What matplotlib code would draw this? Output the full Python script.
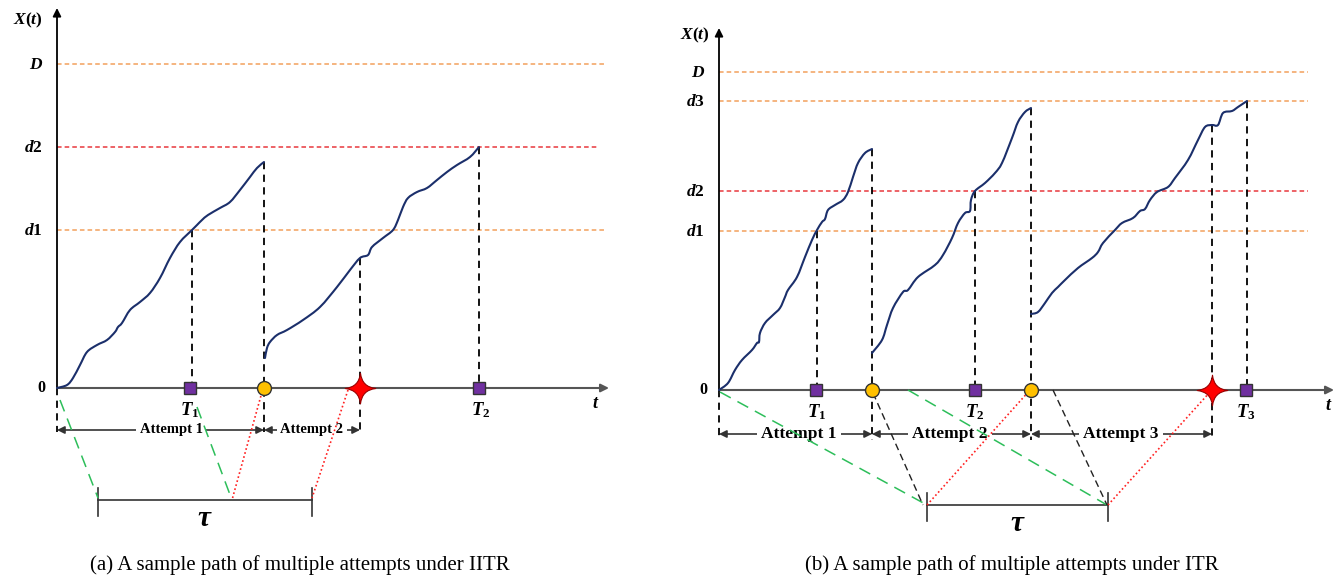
import matplotlib
matplotlib.use("Agg")
import matplotlib.pyplot as plt
from matplotlib.path import Path
from matplotlib.patches import PathPatch
import numpy as np

plt.rcParams['mathtext.fontset'] = 'custom'
plt.rcParams['mathtext.rm'] = 'Liberation Serif:bold'
plt.rcParams['mathtext.it'] = 'Liberation Serif:bold:italic'
plt.rcParams['mathtext.bf'] = 'Liberation Serif:bold'

# ---------------- data (diagram coordinates) ----------------
# Panel (a)
a_axis_x = 57
a_zero_y = 388
a_levels_y = [64, 147, 230]
a_level_labels = ['$D$', '$d2$', '$d1$']
a_level_kinds = ['orange', 'red', 'orange']
a_level_end = [607, 598, 605]

a_path1_x = [57, 67, 73, 80, 87, 97, 107, 115, 118, 122, 130, 140, 150, 160, 170, 180, 192, 197, 202, 208, 220, 230, 240, 250, 257, 264]
a_path1_y = [388, 385, 378, 365, 352, 345, 340, 332, 327, 323, 310, 302, 293, 278, 258, 242, 230, 225, 220, 215, 208, 202, 190, 177, 168, 162]
a_path2_x = [265, 267, 270, 277, 287, 303, 320, 337, 350, 360, 368, 372, 383, 393, 398, 403, 408, 417, 427, 437, 447, 457, 470, 479]
a_path2_y = [358, 348, 342, 335, 330, 320, 307, 287, 270, 258, 255, 247, 238, 230, 220, 207, 198, 192, 188, 180, 172, 165, 157, 147]

a_vlines = [(192, 230, 388), (264, 162, 432), (360, 258, 432), (479, 147, 388), (57, 388, 432)]
a_markers = [('square', 190), ('circle', 264), ('star', 360), ('square', 479)]
a_T_labels = [('$T_1$', 190), ('$T_2$', 481)]
a_attempts = [(57, 264, 'Attempt 1', 171), (264, 360, 'Attempt 2', 312)]
a_attempt_y = 430
a_green = [((60, 400), (98, 498)), ((197, 407), (232, 500))]
a_red = [((262, 392), (232, 500)), ((348, 390), (312, 498))]
a_black = []
a_tau = (98, 312, 500)

# Panel (b)
b_axis_x = 719
b_zero_y = 390
b_levels_y = [72, 101, 191, 231]
b_level_labels = ['$D$', '$d3$', '$d2$', '$d1$']
b_level_kinds = ['orange', 'orange', 'red', 'orange']
b_level_end = [1308, 1308, 1308, 1308]

b_path1_x = [719, 728, 735, 742, 752, 757, 759, 760, 765, 773, 780, 785, 788, 797, 805, 812, 817, 822, 825, 828, 835, 843, 848, 853, 858, 865, 872]
b_path1_y = [390, 383, 370, 360, 350, 343, 342, 333, 323, 315, 308, 297, 290, 277, 257, 240, 230, 222, 219, 210, 205, 200, 192, 177, 163, 153, 149]
b_path2_x = [872, 882, 887, 893, 903, 908, 918, 935, 943, 952, 958, 965, 970, 971, 975, 985, 995, 1002, 1012, 1018, 1025, 1031]
b_path2_y = [353, 340, 325, 308, 292, 290, 277, 265, 255, 238, 223, 213, 211, 200, 191, 183, 173, 163, 138, 122, 112, 108]
b_path3_x = [1031, 1038, 1045, 1052, 1058, 1065, 1078, 1092, 1098, 1103, 1115, 1122, 1133, 1140, 1145, 1150, 1157, 1168, 1175, 1188, 1198, 1205, 1212, 1218, 1223, 1232, 1238, 1247]
b_path3_y = [314, 312, 303, 293, 287, 280, 268, 258, 252, 243, 230, 223, 218, 211, 209, 200, 192, 187, 178, 160, 140, 127, 125, 125, 113, 111, 107, 101]

b_vlines = [(817, 231, 390), (872, 149, 440), (975, 191, 390), (1031, 108, 440), (1212, 125, 440), (1247, 101, 390), (719, 390, 440)]
b_markers = [('square', 816), ('circle', 872), ('square', 975), ('circle', 1031), ('star', 1212), ('square', 1246)]
b_T_labels = [('$T_1$', 817), ('$T_2$', 975), ('$T_3$', 1246)]
b_attempts = [(719, 872, 'Attempt 1', 799), (872, 1031, 'Attempt 2', 950), (1031, 1212, 'Attempt 3', 1121)]
b_attempt_y = 434
b_green = [((720, 392), (927, 505)), ((908, 390), (1107, 505))]
b_red = [((927, 505), (1030, 390)), ((1108, 505), (1210, 392))]
b_black = [((873, 393), (923, 505)), ((1053, 390), (1107, 505))]
b_tau = (927, 1108, 505)

captions = [('(a) A sample path of multiple attempts under IITR', 300),
            ('(b) A sample path of multiple attempts under ITR', 1012)]

# ---------------- styles ----------------
ORANGE = '#F2A05C'
RED = '#E8383D'
NAVY = '#1B2F6B'
GREEN = '#2DBE5A'
PURPLE = '#7030A0'
GOLD = '#FFC000'
AXGRAY = '#555555'

star_path = Path([(0, 1), (0.1, 0.1), (1, 0), (0.1, -0.1), (0, -1), (-0.1, -0.1), (-1, 0), (-0.1, 0.1), (0, 1), (0, 1)],
                 [Path.MOVETO, Path.CURVE3, Path.CURVE3, Path.CURVE3, Path.CURVE3,
                  Path.CURVE3, Path.CURVE3, Path.CURVE3, Path.CURVE3, Path.CLOSEPOLY])


def smooth_path(xs, ys):
    """Render the read points as one curve (Bezier segments through every point)."""
    P = np.column_stack([xs, ys]).astype(float)
    n = len(P)
    verts = [P[0]]
    codes = [Path.MOVETO]
    for i in range(n - 1):
        p0 = P[i - 1] if i > 0 else P[i]
        p1 = P[i]
        p2 = P[i + 1]
        p3 = P[i + 2] if i + 2 < n else P[i + 1]
        verts += [p1 + (p2 - p0) / 6.0, p2 - (p3 - p1) / 6.0, p2]
        codes += [Path.CURVE4] * 3
    return Path(verts, codes)


fig = plt.figure(figsize=(13.38, 5.77), dpi=100)
ax = fig.add_axes([0, 0, 1, 1])
ax.set_xlim(0, 1338)
ax.set_ylim(577, 0)
ax.axis('off')


def panel(axis_x, zero_y, top_y, t_end, levels, labels, kinds, ends, paths, vlines, markers,
          tlabels, attempts, att_y, att_fs, green, red, black, tau, xlab_pos, t_lab_pos):
    ax.annotate('', xy=(axis_x, top_y), xytext=(axis_x, zero_y),
                arrowprops=dict(arrowstyle='-|>', color='black', lw=1.3, mutation_scale=12,
                                shrinkA=0, shrinkB=0), zorder=4)
    ax.annotate('', xy=(t_end, zero_y), xytext=(axis_x, zero_y),
                arrowprops=dict(arrowstyle='-|>', color=AXGRAY, lw=1.5, mutation_scale=12,
                                shrinkA=0, shrinkB=0), zorder=4)
    ax.text(xlab_pos[0], xlab_pos[1], '$X(t)$', fontsize=12.5, ha='center', va='center')
    ax.text(axis_x - 12, zero_y, '0', fontsize=11.5, fontweight='bold', family='Liberation Serif',
            ha='right', va='center')
    ax.text(t_lab_pos[0], t_lab_pos[1], '$t$', fontsize=13, ha='center', va='center')
    for y, lab, kind, xe in zip(levels, labels, kinds, ends):
        ax.plot([axis_x, xe], [y, y], color=ORANGE if kind == 'orange' else RED,
                lw=1.1, ls=(0, (3, 2)), zorder=2)
        ax.text(axis_x - 14, y, lab, fontsize=12.5, ha='right', va='center')
    for px, py in paths:
        ax.add_patch(PathPatch(smooth_path(px, py), fill=False, ec=NAVY, lw=1.5, zorder=5,
                               joinstyle='round', capstyle='round'))
    for x, y0, y1 in vlines:
        ax.plot([x, x], [y0, y1], color='black', lw=1.3, ls=(0, (4, 3)), zorder=3)
    for kind, x in markers:
        if kind == 'square':
            ax.plot(x, zero_y, marker='s', ms=9, mfc=PURPLE, mec='#333333', mew=1, zorder=8)
        elif kind == 'circle':
            ax.plot(x, zero_y, marker='o', ms=10, mfc=GOLD, mec='#333333', mew=1, zorder=8)
        else:
            ax.plot(x, zero_y, marker=star_path, ms=22, mfc='#FF0000', mec='#990000', mew=0.8, zorder=8)
    for lab, x in tlabels:
        ax.text(x, zero_y + 22, lab, fontsize=13.5, ha='center', va='center')
    for x0, x1, lab, xt in attempts:
        ax.annotate('', xy=(x1, att_y), xytext=(x0, att_y),
                    arrowprops=dict(arrowstyle='<|-|>', color='#333333', lw=1.2,
                                    mutation_scale=11, shrinkA=0, shrinkB=0), zorder=3)
        ax.text(xt, att_y, lab, fontsize=att_fs, fontweight='bold', family='Liberation Serif',
                ha='center', va='center', zorder=4,
                bbox=dict(boxstyle='square,pad=0.25', fc='white', ec='none'))
    for (p0, p1) in green:
        ax.plot([p0[0], p1[0]], [p0[1], p1[1]], color=GREEN, lw=1.1, ls=(0, (8, 5)), zorder=6)
    for (p0, p1) in red:
        ax.plot([p0[0], p1[0]], [p0[1], p1[1]], color='#FF2020', lw=1.2, ls=(0, (1, 1.5)), zorder=6)
    for (p0, p1) in black:
        ax.plot([p0[0], p1[0]], [p0[1], p1[1]], color='#222222', lw=1.0, ls=(0, (5, 3)), zorder=6)
    tx0, tx1, ty = tau
    ax.plot([tx0, tx1], [ty, ty], color='#333333', lw=1.2, zorder=3)
    for xx in (tx0, tx1):
        ax.plot([xx, xx], [ty - 12, ty + 16], color='#333333', lw=1.2, zorder=3)
    ax.text((tx0 + tx1) / 2, ty + 18, '$\\tau$', fontsize=21, ha='center', va='center')


panel(a_axis_x, a_zero_y, 8, 609, a_levels_y, a_level_labels, a_level_kinds, a_level_end,
      [(a_path1_x, a_path1_y), (a_path2_x, a_path2_y)], a_vlines, a_markers, a_T_labels,
      a_attempts, a_attempt_y, 10.5, a_green, a_red, a_black, a_tau, (28, 20), (596, 403))
panel(b_axis_x, b_zero_y, 28, 1334, b_levels_y, b_level_labels, b_level_kinds, b_level_end,
      [(b_path1_x, b_path1_y), (b_path2_x, b_path2_y), (b_path3_x, b_path3_y)], b_vlines, b_markers,
      b_T_labels, b_attempts, b_attempt_y, 12.5, b_green, b_red, b_black, b_tau, (695, 35), (1329, 405))

for txt, xc in captions:
    ax.text(xc, 565, txt, fontsize=15, family='Liberation Serif', ha='center', va='center')

fig.savefig('out.png', dpi=100)
